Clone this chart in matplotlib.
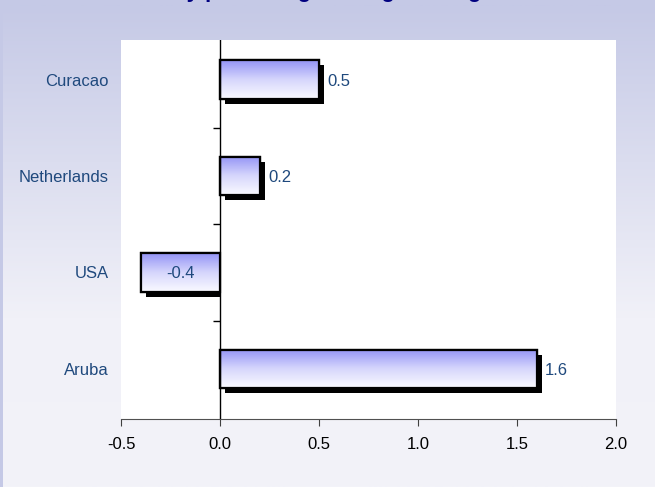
import matplotlib
matplotlib.use('Agg')
import matplotlib.pyplot as plt
import matplotlib.patheffects as pe
import matplotlib.markers as mmarkers
from matplotlib.colors import LinearSegmentedColormap
from matplotlib.transforms import Bbox, TransformedBbox
import numpy as np


countries = ['Aruba', 'USA', 'Netherlands', 'Curacao']
change = [1.6, -0.4, 0.2, 0.5]
value_labels = ['1.6', '-0.4', '0.2', '0.5']
x_ticks = [-0.5, 0.0, 0.5, 1.0, 1.5, 2.0]
title = 'Monthly percentage change in August'

label_blue = '#1F497D'
plt.rcParams['font.family'] = ['Liberation Sans', 'DejaVu Sans']

fig = plt.figure(figsize=(6.55, 4.87), dpi=100, facecolor='#C5C9E6')

# background gradient panel
bg = fig.add_axes([3/655, 0, 1 - 3/655, 1 - 5/487], zorder=-1)
bg_cmap = LinearSegmentedColormap.from_list('bg', [(0, '#C5C9E6'), (0.65, '#F1F1F8'), (1, '#F3F3F9')])
bg.imshow(np.linspace(0, 1, 256).reshape(-1, 1), cmap=bg_cmap, aspect='auto', extent=(0, 1, 0, 1))
bg.set_axis_off()

ax = fig.add_axes([121/655, 68/487, 495/655, 379/487])
ax.set_facecolor('white')
ax.set_xlim(-0.5, 2.0)
ax.set_ylim(-0.52, 3.41)

pos = np.arange(len(countries))
bar_h = 0.4

# bars with a drop shadow, gradient drawn over them, then the outline on top
bars = ax.barh(pos, change, height=bar_h, color='white', edgecolor='black', lw=1.6, zorder=2,
               path_effects=[pe.SimplePatchShadow(offset=(3.6, -3.6), shadow_rgbFace='black', alpha=1.0),
                             pe.Normal()])
grad_cmap = LinearSegmentedColormap.from_list('bar', ['#FAFAFF', '#D6D6FC', '#9494F6'])
grad = np.linspace(0, 1, 100).reshape(-1, 1)
for b, v in zip(bars, change):
    x0, y0 = b.get_x(), b.get_y()
    if v < 0:
        # shadow of a negative bar stops at the zero line
        b.set_clip_box(TransformedBbox(Bbox([[-0.5, -0.52], [0, 3.41]]), ax.transData))
    im = ax.imshow(grad, cmap=grad_cmap, aspect='auto', origin='lower', zorder=3,
                   extent=(x0, x0 + b.get_width(), y0, y0 + b.get_height()))
    im.set_clip_path(b)
ax.barh(pos, change, height=bar_h, color='none', edgecolor='black', lw=1.6, zorder=4)

# value labels: outside for positive, inside for negative
for p, v, lab in zip(pos, change, value_labels):
    if v >= 0:
        ax.annotate(lab, (v, p), xytext=(6, 0), textcoords='offset points', ha='left',
                    va='center_baseline', fontsize=12, color=label_blue, zorder=5)
    else:
        ax.text(v / 2, p, lab, ha='center', va='center_baseline', fontsize=12, color=label_blue, zorder=5)

ax.set_xticks(x_ticks)
ax.set_xticklabels(['%.1f' % t for t in x_ticks], fontsize=12)
ax.set_yticks(pos)
ax.set_yticklabels(countries, fontsize=12, color=label_blue)
ax.tick_params(axis='y', length=0, pad=9)
ax.tick_params(axis='x', length=5, color='#404040', pad=8)

for s in ['top', 'right', 'left']:
    ax.spines[s].set_visible(False)
ax.spines['bottom'].set_color('#505050')

# zero line with small category separators
ax.axvline(0, color='black', lw=1.0, zorder=5)
ax.plot([0] * (len(countries) - 1), pos[:-1] + 0.5, ls='none', marker=mmarkers.TICKLEFT,
        ms=5, mew=1.0, color='black', clip_on=False)

fig.text(314/655, 1 + 3/487, title, ha='center', va='baseline', fontsize=16,
         fontweight='bold', color='#000080')

fig.savefig('out.png', dpi=100, facecolor=fig.get_facecolor())
